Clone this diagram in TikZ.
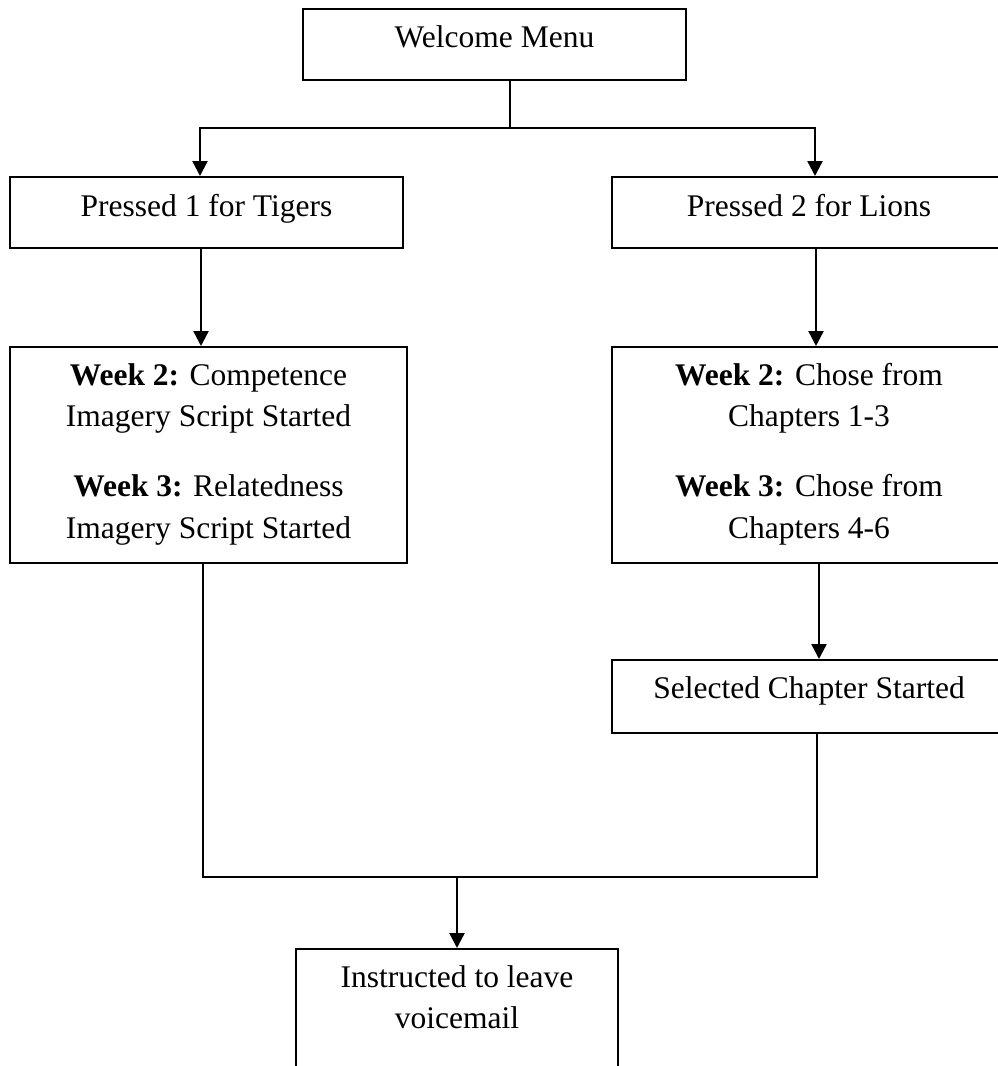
\documentclass[tikz,border=0pt]{standalone}
\usepackage{fontspec}
\setmainfont{Liberation Serif}
\usetikzlibrary{arrows.meta}
\begin{document}
\begin{tikzpicture}[x=1pt,y=-1pt,
  box/.style={draw, line width=2pt, rectangle, inner sep=0pt},
  txt/.style={anchor=north, align=center, inner sep=0pt,
              font=\fontsize{31.5}{41.5}\selectfont},
  link/.style={line width=2.4pt},
  arr/.style={link, -{Triangle[length=15pt,width=15pt]}}]
\useasboundingbox (0,0) rectangle (998,1066);
\fill[white] (0,0) rectangle (998,1066);
\clip (0,0) rectangle (998,1066);

% boxes
\node[box, minimum width=383pt, minimum height=71pt]  (welcome) at (494.5,44.5) {};
\node[box, minimum width=393pt, minimum height=71pt]  (tig)     at (206.5,212.5) {};
\node[box, minimum width=394pt, minimum height=71pt]  (lio)     at (809,212.5) {};
\node[box, minimum width=397pt, minimum height=216pt] (tigw)    at (208.5,455) {};
\node[box, minimum width=394pt, minimum height=216pt] (liow)    at (809,455) {};
\node[box, minimum width=394pt, minimum height=73pt]  (sel)     at (809,696.5) {};
\node[box, minimum width=322pt, minimum height=171pt] (mail)    at (457,1034.5) {};

% texts
\node[txt] (welcomeT) at ([yshift=-17pt]welcome.north) {Welcome Menu};
\node[txt] (tigT)  at ([yshift=-18pt]tig.north) {Pressed 1 for Tigers};
\node[txt] (lioT)  at ([yshift=-18pt]lio.north) {Pressed 2 for Lions};
\node[txt] (tigwT) at ([yshift=-17pt]tigw.north)
  {\textbf{Week 2:} Competence\\ Imagery Script Started\\[28.5pt]
   \textbf{Week 3:} Relatedness\\ Imagery Script Started};
\node[txt] (liowT) at ([yshift=-17pt]liow.north)
  {\textbf{Week 2:} Chose from\\ Chapters 1-3\\[28.5pt]
   \textbf{Week 3:} Chose from\\ Chapters 4-6};
\node[txt] (selT)  at ([yshift=-17pt]sel.north) {Selected Chapter Started};
\node[txt] (mailT) at ([yshift=-17pt]mail.north) {Instructed to leave\\ voicemail};

% rails
\coordinate (split) at (510,128);
\coordinate (lft)   at (200,128);
\coordinate (rgt)   at (815,128);
\coordinate (colL)  at (201,0);
\coordinate (colR)  at (816,0);
\coordinate (colR2) at (819,0);
\coordinate (lowL)  at (203,0);
\coordinate (lowR)  at (817,0);
\coordinate (join)  at (457,877);

% connectors
\draw[link] (welcome.south -| split) -- (split);
\draw[arr] (split) -| (tig.north -| lft);
\draw[arr] (split) -| (lio.north -| rgt);
\draw[arr] (tig.south -| colL) -- (tigw.north -| colL);
\draw[arr] (lio.south -| colR) -- (liow.north -| colR);
\draw[arr] (liow.south -| colR2) -- (sel.north -| colR2);
\draw[link] (tigw.south -| lowL) -- (lowL |- join) -- (lowR |- join) -- (sel.south -| lowR);
\draw[arr] (join) -- (mail.north -| join);
\end{tikzpicture}
\end{document}
